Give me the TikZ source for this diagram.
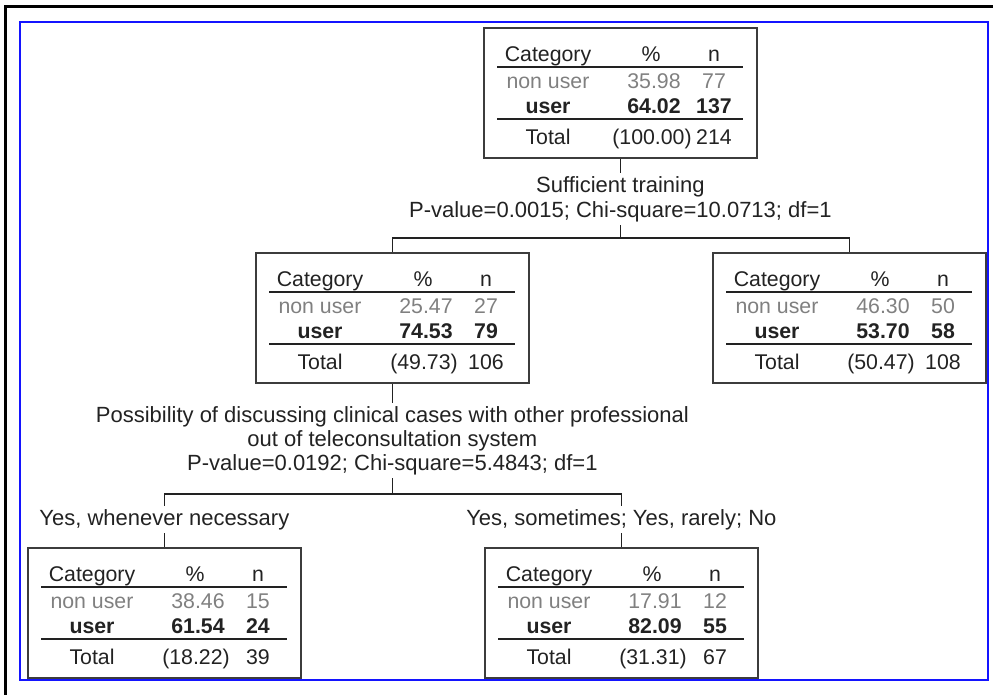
\documentclass[tikz,border=0pt]{standalone}
\usepackage{fontspec}
\setmainfont{Liberation Sans}
\usetikzlibrary{calc}
\definecolor{nug}{RGB}{128,128,128}
\definecolor{ink}{RGB}{34,34,34}
\definecolor{framec}{RGB}{60,60,60}
\definecolor{bordc}{RGB}{20,20,255}
\tikzset{
 sbox/.style={draw=framec, line width=1.8pt, minimum width=273pt, minimum height=130pt, anchor=north west, inner sep=0pt},
 tx/.style={anchor=base, inner sep=0pt, text=ink},
 gr/.style={anchor=base, inner sep=0pt, text=nug},
 bd/.style={anchor=base, inner sep=0pt, text=ink, font=\fontsize{21.3}{25}\selectfont\bfseries},
 rulec/.style={draw=ink, line width=1.4pt},
 conn/.style={draw=ink, line width=1.4pt},
 lab/.style={anchor=base, inner sep=3.3pt, text=ink, font=\fontsize{22}{26}\selectfont},
}
\newcommand\statbox[9]{%
 \node[sbox] (#1) at (#2,#3) {};
 \begin{scope}[shift={(#1.north west)}]
  \node[tx] (#1-h1) at (65,34) {Category};
  \node[tx] (#1-h2) at (168,34) {\%};
  \node[tx] (#1-h3) at (231,34) {n};
  \draw[rulec] (14,40) -- (260,40);
  \node[gr] (#1-a1) at (65,61) {non user};
  \node[gr] (#1-a2) at (171,61) {#4};
  \node[gr] (#1-a3) at (231,61) {#5};
  \node[bd] (#1-b1) at (65,86) {user};
  \node[bd] (#1-b2) at (171,86) {#6};
  \node[bd] (#1-b3) at (231,86) {#7};
  \draw[rulec] (14,92) -- (260,92);
  \node[tx] (#1-c1) at (65,117) {Total};
  \node[tx] (#1-c2) at (169,117) {#8};
  \node[tx] (#1-c3) at (231,117) {#9};
 \end{scope}}
\begin{document}
\begin{tikzpicture}[x=1pt,y=-1pt, every node/.style={font=\fontsize{21.3}{25}\selectfont}]
\useasboundingbox (0,0) rectangle (993,694);
\draw[line width=3pt, black] (5,700) -- (5,6) -- (1000,6);
\draw[bordc, line width=2.5pt] (20,22) rectangle (988,680);
\statbox{top}{483}{27}{35.98}{77}{64.02}{137}{(100.00)}{214}
\statbox{mL}{255}{252}{25.47}{27}{74.53}{79}{(49.73)}{106}
\statbox{mR}{712}{252}{46.30}{50}{53.70}{58}{(50.47)}{108}
\statbox{bL}{27}{547}{38.46}{15}{61.54}{24}{(18.22)}{39}
\statbox{bR}{484}{547}{17.91}{12}{82.09}{55}{(31.31)}{67}
\node[lab] (lab1a) at (top.south |- 0,192) {Sufficient training};
\node[lab] (lab1b) at (top.south |- 0,217) {P-value=0.0015; Chi-square=10.0713; df=1};
\node[lab] (lab2a) at (mL.south |- 0,422) {Possibility of discussing clinical cases with other professional};
\node[lab] (lab2b) at (mL.south |- 0,446) {out of teleconsultation system};
\node[lab] (lab2c) at (mL.south |- 0,470) {P-value=0.0192; Chi-square=5.4843; df=1};
\node[lab] (lab3) at (bL.north |- 0,525) {Yes, whenever necessary};
\node[lab] (lab4) at (bR.north |- 0,525) {Yes, sometimes; Yes, rarely; No};
\coordinate (j1) at (top.south |- 0,238);
\coordinate (j2) at (mL.south |- 0,494);
\draw[conn] (top.south) -- (lab1a.north);
\draw[conn] (lab1b.south) -- (j1);
\draw[conn] (mL.north) |- (j1) -| (mR.north);
\draw[conn] (mL.south) -- (lab2a.north);
\draw[conn] (lab2c.south) -- (j2);
\draw[conn] (lab3.north) |- (j2) -| (lab4.north);
\draw[conn] (lab3.south) -- (bL.north);
\draw[conn] (lab4.south) -- (bR.north);
\end{tikzpicture}
\end{document}
